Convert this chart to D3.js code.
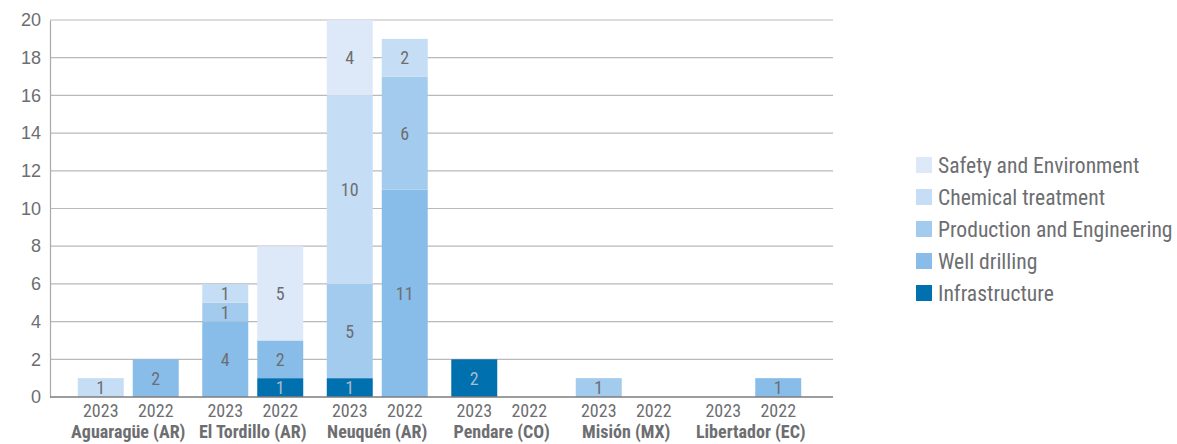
<!DOCTYPE html>
<html>
<head>
<meta charset="utf-8">
<script src="https://cdn.jsdelivr.net/npm/d3@7"></script>
<style>
  body { margin: 0; background: #fff; }
  svg { display: block; font-family: "Roboto Condensed", "Liberation Sans Narrow", "DejaVu Sans Condensed", Roboto, sans-serif; }
</style>
</head>
<body>
<div id="chart"></div>
<script>
const sites = ['Aguaragüe (AR)', 'El Tordillo (AR)', 'Neuquén (AR)', 'Pendare (CO)', 'Misión (MX)', 'Libertador (EC)'];
const years = ['2023', '2022'];
// stack order, bottom to top
const categories = ['Infrastructure', 'Well drilling', 'Production and Engineering', 'Chemical treatment', 'Safety and Environment'];
const colors = ['#0070ae', '#88bde9', '#a3cbee', '#c6def5', '#dde9f8'];

// values per category, per site-year: [site, year, infra, well, prod, chem, safety]
const rows = [
  ['Aguaragüe (AR)',  '2023', 0, 0, 0, 1, 0],
  ['Aguaragüe (AR)',  '2022', 0, 2, 0, 0, 0],
  ['El Tordillo (AR)','2023', 0, 4, 1, 1, 0],
  ['El Tordillo (AR)','2022', 1, 2, 0, 0, 5],
  ['Neuquén (AR)',    '2023', 1, 0, 5, 10, 4],
  ['Neuquén (AR)',    '2022', 0, 11, 6, 2, 0],
  ['Pendare (CO)',    '2023', 2, 0, 0, 0, 0],
  ['Pendare (CO)',    '2022', 0, 0, 0, 0, 0],
  ['Misión (MX)',     '2023', 0, 0, 1, 0, 0],
  ['Misión (MX)',     '2022', 0, 0, 0, 0, 0],
  ['Libertador (EC)', '2023', 0, 0, 0, 0, 0],
  ['Libertador (EC)', '2022', 0, 1, 0, 0, 0]
];
const yTicks = [0, 2, 4, 6, 8, 10, 12, 14, 16, 18, 20];

const width = 1177, height = 444;
const textCol = '#6d6e71';

const svg = d3.select('#chart').append('svg')
  .attr('width', width).attr('height', height);

const y = d3.scaleLinear().domain([0, 20]).range([397, 20]);
const x0 = d3.scaleBand().domain(sites).range([66, 813]);
const x1 = d3.scaleBand().domain(years).range([0, x0.bandwidth()])
  .paddingInner(0.164).paddingOuter(0.214);

// gridlines
svg.append('g')
  .selectAll('line').data(yTicks.filter(d => d > 0)).join('line')
  .attr('x1', 50).attr('x2', 833)
  .attr('y1', d => y(d)).attr('y2', d => y(d))
  .attr('stroke', '#b9b9b9').attr('stroke-width', 1.2);

// y axis labels + vertical line
const yAxis = svg.append('g').attr('transform', 'translate(50,0)')
  .call(d3.axisLeft(y).tickValues(yTicks).tickSize(0).tickPadding(9));
yAxis.select('.domain').attr('stroke', '#aaa').attr('stroke-width', 1.2);
yAxis.selectAll('text').attr('fill', textCol).style('font-size', '18px');

// stacked data
const table = rows.map(r => {
  const o = { site: r[0], year: r[1] };
  categories.forEach((c, i) => { o[c] = r[i + 2]; });
  return o;
});
const series = d3.stack().keys(categories)(table);

const bars = svg.append('g');
series.forEach((s, ci) => {
  s.forEach(d => {
    const v = d[1] - d[0];
    if (v <= 0) return;
    const bx = x0(d.data.site) + x1(d.data.year);
    bars.append('rect')
      .attr('x', bx).attr('width', x1.bandwidth())
      .attr('y', y(d[1])).attr('height', y(d[0]) - y(d[1]))
      .attr('fill', colors[ci]);
    bars.append('text')
      .attr('x', bx + x1.bandwidth() / 2)
      .attr('y', (y(d[0]) + y(d[1])) / 2)
      .attr('dy', '0.36em')
      .attr('text-anchor', 'middle')
      .attr('fill', ci === 0 ? '#a8bccc' : textCol)
      .style('font-size', '18px')
      .text(v);
  });
});

// baseline
svg.append('line')
  .attr('x1', 50).attr('x2', 833).attr('y1', y(0)).attr('y2', y(0))
  .attr('stroke', '#7d7d7d').attr('stroke-width', 1.5);

// x labels
const xl = svg.append('g');
sites.forEach(s => {
  years.forEach(yr => {
    xl.append('text')
      .attr('x', x0(s) + x1(yr) + x1.bandwidth() / 2).attr('y', 417)
      .attr('text-anchor', 'middle').attr('fill', textCol)
      .style('font-size', '18px').text(yr);
  });
  xl.append('text')
    .attr('x', x0(s) + x0.bandwidth() / 2).attr('y', 438)
    .attr('text-anchor', 'middle').attr('fill', textCol)
    .style('font-size', '18px').style('font-weight', 'bold').text(s);
});

// legend, top to bottom is reverse stack order
const legendItems = categories.slice().reverse();
const lg = svg.append('g').attr('transform', 'translate(916,157)');
legendItems.forEach((c, i) => {
  const g = lg.append('g').attr('transform', `translate(0,${i * 32})`);
  g.append('rect').attr('width', 16).attr('height', 16)
    .attr('fill', colors[categories.indexOf(c)]);
  g.append('text').attr('x', 22).attr('y', 8).attr('dy', '0.36em')
    .attr('fill', textCol).style('font-size', '21.6px').text(c);
});
</script>
</body>
</html>
